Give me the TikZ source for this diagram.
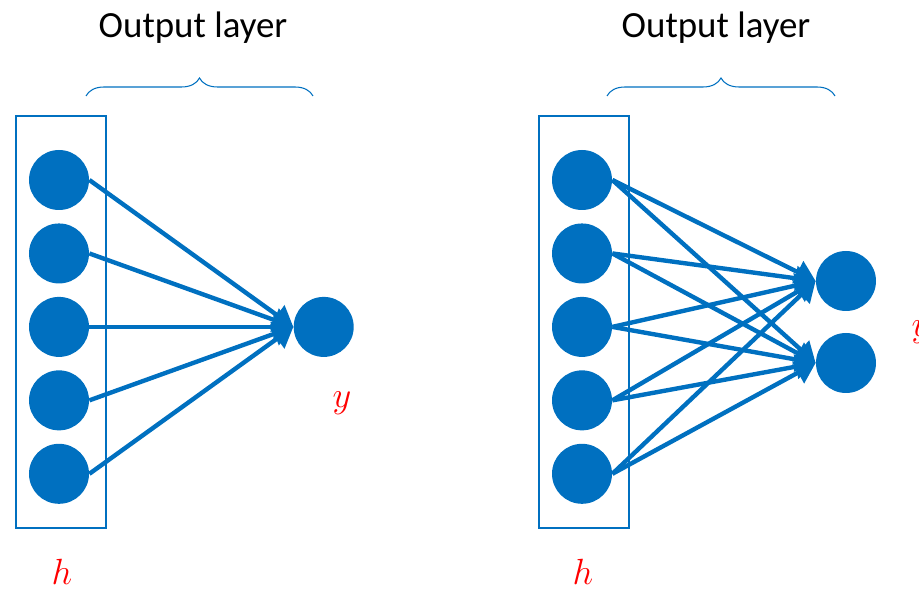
\documentclass[tikz,border=0pt]{standalone}
\usepackage{fontspec}
\setmainfont{Carlito}
\usepackage{xcolor}
\usepackage{tikz}
\usetikzlibrary{arrows.meta, positioning, decorations.pathreplacing}

\definecolor{netblue}{HTML}{0070C0}

\begin{document}
\begin{tikzpicture}[
    neuron/.style={circle, fill=netblue, inner sep=0pt, minimum size=1.2cm},
    layerbox/.style={draw=netblue, line width=1.1pt, minimum width=1.8cm, minimum height=8.24cm, inner sep=0pt},
    arrow/.style={-{Triangle[length=0.4cm, width=0.48cm]}, line width=2.5pt, draw=netblue},
    varlabel/.style={text=red, inner sep=0pt, anchor=base, font=\fontsize{21}{25}\selectfont},
    title/.style={font=\fontsize{21}{25}\selectfont},
    layerbrace/.style={decorate, decoration={brace, amplitude=0.36cm}, draw=netblue, line width=0.6pt},
    node distance=0.255cm
]
\useasboundingbox (0,0) rectangle (18.38,11.8);

% left network: one output
\node[layerbox] (boxa) at (1.22,5.36) {};
\node[neuron] (a1) at (1.18,8.2) {};
\node[neuron, below=of a1] (a2) {};
\node[neuron, below=of a2] (a3) {};
\node[neuron, below=of a3] (a4) {};
\node[neuron, below=of a4] (a5) {};
\node[neuron, right=4.08cm of a3] (ya) {};

\draw[arrow] (a1.east) -- (ya.west);
\draw[arrow] (a2.east) -- (ya.west);
\draw[arrow] (a3.east) -- (ya.west);
\draw[arrow] (a4.east) -- (ya.west);
\draw[arrow] (a5.east) -- (ya.west);

\node[varlabel] (la) at (6.84,3.64) {$y$};
\node[varlabel] (ha) at (1.24,0.12) {$h$};

\coordinate (bal) at (1.72,9.88);
\coordinate (bar) at (6.26,9.88);
\draw[layerbrace] (bal) -- (bar);
\node[title] (ta) at (3.86,11.24) {Output layer};

% right network: two outputs
\node[layerbox] (boxb) at (11.68,5.36) {};
\node[neuron] (b1) at (11.64,8.2) {};
\node[neuron, below=of b1] (b2) {};
\node[neuron, below=of b2] (b3) {};
\node[neuron, below=of b3] (b4) {};
\node[neuron, below=of b4] (b5) {};
\node[neuron] (yb1) at (16.92,6.18) {};
\node[neuron] (yb2) at (16.92,4.54) {};

\draw[arrow] (b1.east) -- (yb1.west);
\draw[arrow] (b2.east) -- (yb1.west);
\draw[arrow] (b3.east) -- (yb1.west);
\draw[arrow] (b4.east) -- (yb1.west);
\draw[arrow] (b5.east) -- (yb1.west);
\draw[arrow] (b1.east) -- (yb2.west);
\draw[arrow] (b2.east) -- (yb2.west);
\draw[arrow] (b3.east) -- (yb2.west);
\draw[arrow] (b4.east) -- (yb2.west);
\draw[arrow] (b5.east) -- (yb2.west);

\node[varlabel] (lb) at (18.42,5.06) {$y$};
\node[varlabel] (hb) at (11.66,0.12) {$h$};

\coordinate (bbl) at (12.14,9.88);
\coordinate (bbr) at (16.70,9.88);
\draw[layerbrace] (bbl) -- (bbr);
\node[title] (tb) at (14.32,11.24) {Output layer};

\end{tikzpicture}
\end{document}
